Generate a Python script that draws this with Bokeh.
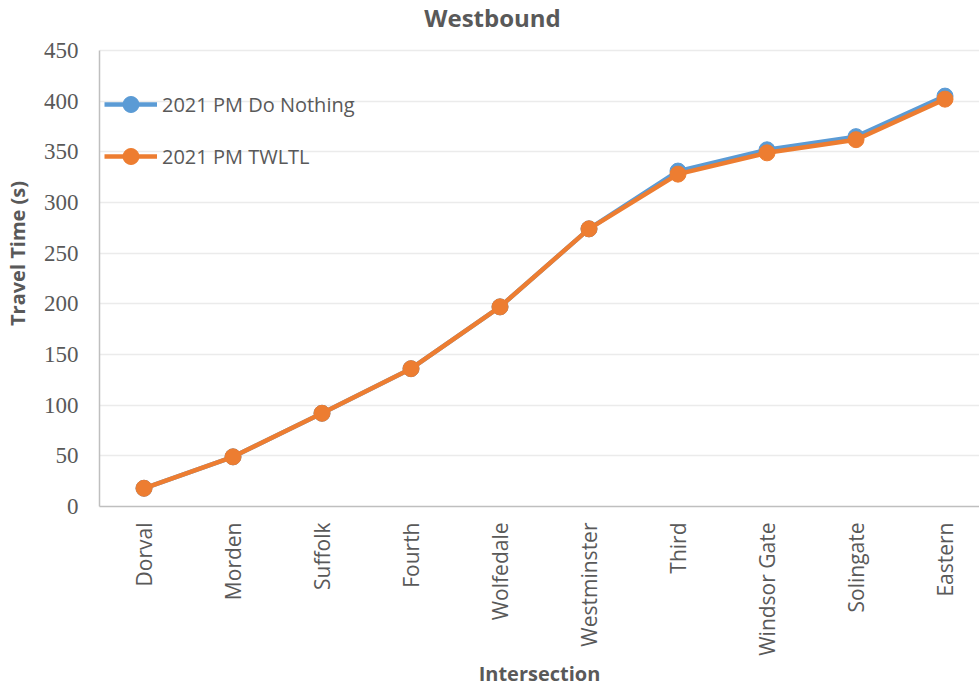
import math
from bokeh.plotting import figure
from bokeh.models import Range1d, FixedTicker, Legend, LegendItem, Label
from bokeh.embed import file_html
from bokeh.resources import INLINE

# Westbound cumulative travel time by intersection, 2021 PM peak
intersections = ["Dorval", "Morden", "Suffolk", "Fourth", "Wolfedale",
                 "Westminster", "Third", "Windsor Gate", "Solingate", "Eastern"]
do_nothing = [18, 49, 92, 136, 197, 274, 331, 352, 365, 405]
twltl = [18, 49, 92, 136, 197, 274, 328, 349, 362, 402]
y_ticks = [0, 50, 100, 150, 200, 250, 300, 350, 400, 450]

BLUE = "#5B9BD5"
ORANGE = "#ED7D31"
TEXT = "#595959"
SANS = "Open Sans"

xs = list(range(1, len(intersections) + 1))

# The frame runs to the top of the canvas so the title can sit in it;
# the y axis itself is bounded to 0-450.
y_top = 450 * 506 / 456
p = figure(width=979, height=690, output_backend="svg", toolbar_location=None,
           x_range=Range1d(0.5, 0.5 + 880 / 89), y_range=Range1d(0, y_top),
           min_border_left=99, min_border_right=0,
           min_border_top=0, min_border_bottom=184)
p.title = None
p.outline_line_color = None
p.background_fill_color = "white"
p.border_fill_color = "white"

# series
r1l = p.line(xs, do_nothing, line_color=BLUE, line_width=4.5)
r1s = p.scatter(xs, do_nothing, size=16, fill_color=BLUE, line_color=BLUE)
r2l = p.line(xs, twltl, line_color=ORANGE, line_width=4.5)
r2s = p.scatter(xs, twltl, size=16, fill_color=ORANGE, line_color=ORANGE)

legend = Legend(items=[LegendItem(label="2021 PM Do Nothing", renderers=[r1l, r1s]),
                       LegendItem(label="2021 PM TWLTL", renderers=[r2l, r2s])],
                location=(5, 330), border_line_color=None,
                background_fill_alpha=0, padding=0, margin=0, spacing=12,
                glyph_width=53, glyph_height=40, label_height=40,
                label_standoff=5, label_text_font=SANS,
                label_text_font_size="20px", label_text_color=TEXT)
p.add_layout(legend)

# chart title, in pixels from the frame's lower-left corner
p.add_layout(Label(x=393, y=489, x_units="screen", y_units="screen",
                   text="Westbound", text_align="center", text_baseline="alphabetic",
                   text_font=SANS, text_font_size="24px", text_font_style="bold",
                   text_color=TEXT))

# x axis
p.xaxis.ticker = FixedTicker(ticks=xs)
p.xaxis.major_label_overrides = {i: n for i, n in zip(xs, intersections)}
p.xaxis.major_label_orientation = math.pi / 2
p.xaxis.major_label_text_font = SANS
p.xaxis.major_label_text_font_size = "21px"
p.xaxis.major_label_text_color = TEXT
p.xaxis.major_label_standoff = 16
p.xaxis.axis_label = "Intersection"
p.xaxis.axis_label_text_font = SANS
p.xaxis.axis_label_text_font_size = "20px"
p.xaxis.axis_label_text_font_style = "bold"
p.xaxis.axis_label_text_color = TEXT
p.xaxis.axis_label_standoff = 1

# y axis
p.yaxis.ticker = FixedTicker(ticks=y_ticks)
p.yaxis.bounds = (0, 450)
p.yaxis.major_label_text_font = "Liberation Serif"
p.yaxis.major_label_text_font_size = "23px"
p.yaxis.major_label_text_color = TEXT
p.yaxis.major_label_standoff = 21
p.yaxis.axis_label = "Travel Time (s)"
p.yaxis.axis_label_text_font = SANS
p.yaxis.axis_label_text_font_size = "20px"
p.yaxis.axis_label_text_font_style = "bold"
p.yaxis.axis_label_text_color = TEXT
p.yaxis.axis_label_standoff = 10

for ax in (p.xaxis, p.yaxis):
    ax.axis_line_color = "#BFBFBF"
    ax.axis_line_width = 1.5
    ax.major_tick_line_color = None
    ax.minor_tick_line_color = None
    ax.major_tick_out = 0
    ax.major_tick_in = 0
    ax.minor_tick_out = 0
    ax.minor_tick_in = 0

p.xgrid.grid_line_color = None
p.ygrid.grid_line_color = "#EBEBEB"
p.ygrid.grid_line_width = 1.5

open("out.html", "w").write(file_html(p, INLINE))
